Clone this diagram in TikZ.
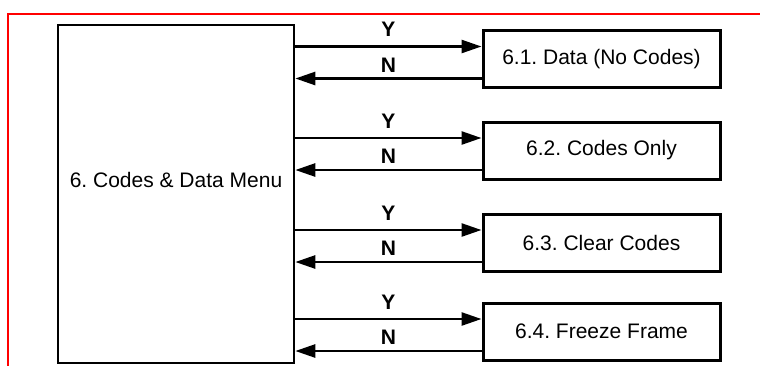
\documentclass[tikz,border=0pt]{standalone}
\usepackage{fontspec}
\setmainfont{Liberation Sans}
\usetikzlibrary{arrows.meta}
\frenchspacing
\tikzset{
  menubox/.style={draw, line width=2.6pt, minimum width=236pt, minimum height=338pt, inner sep=0pt},
  itembox/.style={draw, line width=3pt, minimum width=237pt, minimum height=57pt, inner sep=0pt, font=\fontsize{21}{24}\selectfont},
  arr/.style={line width=2.6pt, -{Triangle[length=20pt,width=13pt]}},
  yn/.style={font=\fontsize{21}{24}\selectfont\bfseries, inner sep=0pt},
  frame/.style={red, line width=2.4pt}
}
\begin{document}
\begin{tikzpicture}[x=1pt,y=-1pt]
\useasboundingbox (0,0) rectangle (760,365);
\draw[frame] (8,366) -- (8,14) -- (761,14);
\node[menubox] (main) at (176,194) {};
\node[anchor=base, font=\fontsize{21}{24}\selectfont] (mainlabel) at (176,187) {6. Codes \& Data Menu};
\node[itembox] (b1) at (601.5,59) {6.1. Data (No Codes)};
\node[itembox] (b2) at (601.5,150.5) {6.2. Codes Only};
\node[itembox] (b3) at (601.5,242.5) {6.3. Clear Codes};
\node[itembox] (b4) at (601.5,331.5) {6.4. Freeze Frame};
\foreach \b in {b1,b2,b3,b4}{
  \coordinate (\b y) at ([yshift=12.5pt]\b.west);
  \coordinate (\b n) at ([yshift=-19.5pt]\b.west);
  \draw[arr] (main.east |- \b y) -- node[yn, yshift=17pt] {Y} (\b y);
  \draw[arr] (\b n) -- node[yn, yshift=13.5pt] {N} (main.east |- \b n);
}
\end{tikzpicture}
\end{document}
